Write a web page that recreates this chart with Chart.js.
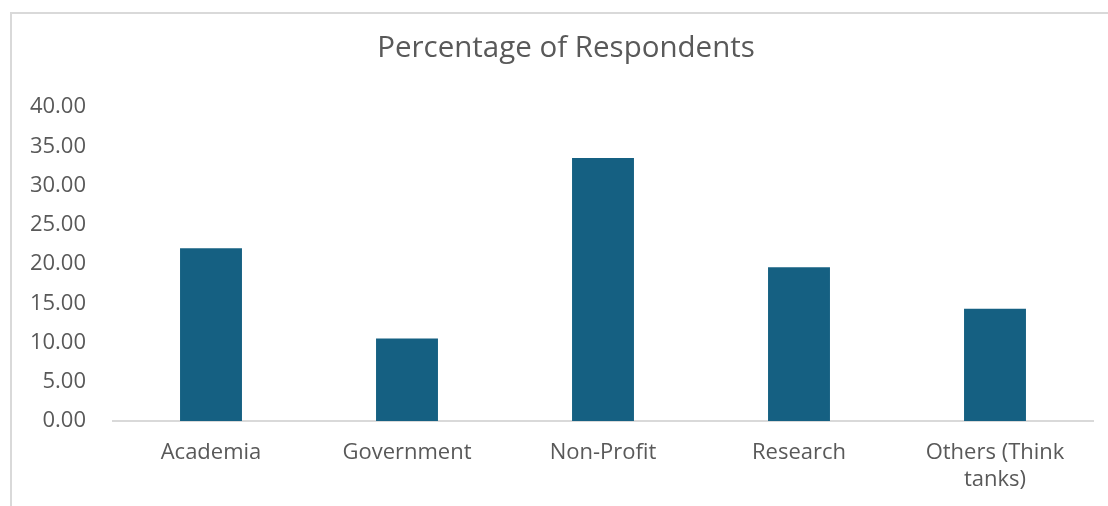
<!DOCTYPE html>
<html>
<head>
<meta charset="utf-8">
<script src="https://cdn.jsdelivr.net/npm/chart.js@4/dist/chart.umd.min.js"></script>
<style>
    html, body { margin: 0; padding: 0; background: #fff; overflow: hidden; }
    #wrap { position: relative; width: 1108px; height: 506px; }
    #frame {
        position: absolute; left: 10px; top: 12px;
        width: 2000px; height: 1000px;
        border: 2px solid #d9d9d9;
    }
    #box { position: absolute; left: 0; top: 0; width: 1108px; height: 506px; }
</style>
</head>
<body>
<div id="wrap">
    <div id="frame"></div>
    <div id="box"><canvas id="respChart"></canvas></div>
</div>
<script>
let sectors = ["Academia", "Government", "Non-Profit", "Research", ["Others (Think", "tanks)"]];
let percents = [22.0, 10.5, 33.5, 19.6, 14.3];
let yTicks = [0, 5, 10, 15, 20, 25, 30, 35, 40];
let chartTitle = "Percentage of Respondents";

let textColor = "#595959";
let font = "'Open Sans', 'Liberation Sans', sans-serif";

// title sits a bit right of the canvas centre, so draw it by hand
let titlePlugin = {
    id: "titleText",
    afterDraw(c) {
        let ctx = c.ctx;
        ctx.save();
        ctx.fillStyle = textColor;
        ctx.font = "29.5px " + font;
        ctx.textAlign = "center";
        ctx.textBaseline = "middle";
        ctx.fillText(chartTitle, 566, 49);
        ctx.restore();
    }
};

let chart = new Chart(document.getElementById("respChart"), {
    type: "bar",
    data: {
        labels: sectors,
        datasets: [{
            label: chartTitle,
            data: percents,
            backgroundColor: "#156082",
            borderWidth: 0,
            categoryPercentage: 1,
            barPercentage: 0.316
        }]
    },
    plugins: [titlePlugin],
    options: {
        responsive: true,
        maintainAspectRatio: false,
        animation: false,
        layout: { padding: { left: 0, right: 15, top: 107, bottom: 0 } },
        plugins: {
            legend: { display: false },
            tooltip: { enabled: false },
            title: { display: false }
        },
        scales: {
            x: {
                afterFit: scale => { scale.height = 85; },
                grid: { color: "rgba(0,0,0,0)", drawTicks: false },
                border: { display: true, color: "#d9d9d9", width: 2 },
                ticks: {
                    color: textColor,
                    font: { family: font, size: 22 },
                    padding: 19,
                    maxRotation: 0,
                    autoSkip: false
                }
            },
            y: {
                min: 0,
                max: 40,
                afterFit: scale => { scale.width = 113; },
                afterBuildTicks: scale => { scale.ticks = yTicks.map(v => ({ value: v })); },
                grid: { display: false, drawTicks: false },
                border: { display: false },
                ticks: {
                    color: textColor,
                    font: { family: font, size: 22 },
                    padding: 27,
                    callback: v => Number(v).toFixed(2)
                }
            }
        }
    }
});
</script>
</body>
</html>
